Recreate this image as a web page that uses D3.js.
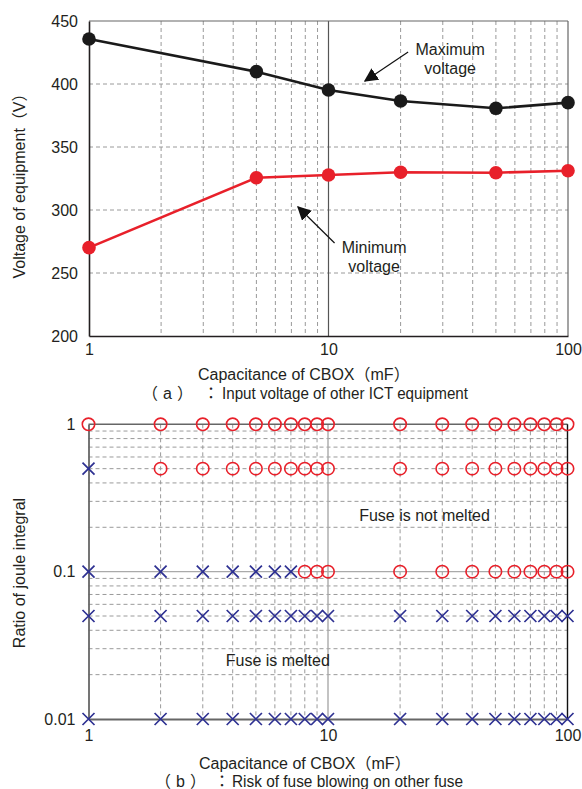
<!DOCTYPE html>
<html><head><meta charset="utf-8">
<script src="https://cdn.jsdelivr.net/npm/d3@7"></script>
<style>
body{margin:0;background:#fff;}
text{font-family:"Liberation Sans","Noto Sans CJK JP",Arial,sans-serif;fill:#231f20;}
</style></head>
<body><svg id="c" width="582" height="789"></svg>
<script>
// ---------- data ----------
const capTop = [1, 5, 10, 20, 50, 100];
const maxVoltage = [435.7, 409.8, 395.2, 386.5, 380.7, 385.2];
const minVoltage = [270.1, 325.6, 327.8, 330, 329.6, 331.2];
const topYTicks = [200, 250, 300, 350, 400, 450];
const xTicks = [1, 10, 100];
const xMinor = [2,3,4,5,6,7,8,9,20,30,40,50,60,70,80,90];

const capBottom = [1,2,3,4,5,6,7,8,9,10,20,30,40,50,60,70,80,90,100];
const ratioLevels = [1, 0.5, 0.1, 0.05, 0.01];
// melted flags per level for each capacitance (true = X, false = O)
const meltedAt1   = capBottom.map(c => false);
const meltedAt05  = capBottom.map(c => c === 1);
const meltedAt01  = capBottom.map(c => c <= 7);
const meltedAt005 = capBottom.map(c => true);
const meltedAt001 = capBottom.map(c => true);
const meltedRows = [meltedAt1, meltedAt05, meltedAt01, meltedAt005, meltedAt001];
const bottomYTicks = [0.01, 0.1, 1];
const yMinorBottom = [0.02,0.03,0.04,0.05,0.06,0.07,0.08,0.09,0.2,0.3,0.4,0.5,0.6,0.7,0.8,0.9];

const svg = d3.select("#c");

// ---------- top chart ----------
const xT = d3.scaleLog().domain([1,100]).range([89,568]);
const yT = d3.scaleLinear().domain([200,450]).range([336,21]);
const gT = svg.append("g");

gT.selectAll(".vm").data(xMinor).join("line")
  .attr("x1", d=>xT(d)).attr("x2", d=>xT(d)).attr("y1", yT(450)).attr("y2", yT(200))
  .attr("stroke","#9a9a9a").attr("stroke-width",1).attr("stroke-dasharray","4,3");
gT.selectAll(".hm").data(topYTicks.filter(d=>d>200 && d<450)).join("line")
  .attr("x1", xT(1)).attr("x2", xT(100)).attr("y1", d=>yT(d)).attr("y2", d=>yT(d))
  .attr("stroke","#9a9a9a").attr("stroke-width",1).attr("stroke-dasharray","4,3");
gT.append("line").attr("x1",xT(10)).attr("x2",xT(10)).attr("y1",yT(450)).attr("y2",yT(200))
  .attr("stroke","#555").attr("stroke-width",1.2);
// frame
gT.append("line").attr("x1",xT(1)).attr("x2",xT(100)).attr("y1",yT(450)).attr("y2",yT(450)).attr("stroke","#666").attr("stroke-width",1.2);
gT.append("line").attr("x1",xT(100)).attr("x2",xT(100)).attr("y1",yT(450)).attr("y2",yT(200)).attr("stroke","#666").attr("stroke-width",1.2);

const axBT = gT.append("g").attr("transform",`translate(0,${yT(200)})`)
  .call(d3.axisBottom(xT).tickValues(xTicks).tickFormat(d3.format("d")).tickSize(0).tickPadding(8));
axBT.select(".domain").attr("stroke","#231f20").attr("stroke-width",1.6);
axBT.selectAll("text").attr("font-size",16).attr("fill","#231f20");
const axLT = gT.append("g").attr("transform",`translate(${xT(1)},0)`)
  .call(d3.axisLeft(yT).tickValues(topYTicks).tickSize(0).tickPadding(11));
axLT.select(".domain").attr("stroke","#231f20").attr("stroke-width",1.6);
axLT.selectAll("text").attr("font-size",16).attr("fill","#231f20");

const line = d3.line().x(d=>xT(d[0])).y(d=>yT(d[1]));
const series = [
  {vals:maxVoltage, color:"#1a1a1a"},
  {vals:minVoltage, color:"#e8202a"}
];
series.forEach(s=>{
  const pts = capTop.map((c,i)=>[c,s.vals[i]]);
  gT.append("path").datum(pts).attr("d",line).attr("fill","none").attr("stroke",s.color).attr("stroke-width",2.6);
  gT.selectAll(null).data(pts).join("circle").attr("cx",d=>xT(d[0])).attr("cy",d=>yT(d[1])).attr("r",6.8).attr("fill",s.color);
});

// arrowhead
svg.append("defs").append("marker").attr("id","ah").attr("viewBox","0 0 10 10")
  .attr("refX",9).attr("refY",5).attr("markerWidth",14).attr("markerHeight",14)
  .attr("markerUnits","userSpaceOnUse").attr("orient","auto")
  .append("path").attr("d","M0,0 L10,5 L0,10 z").attr("fill","#111");

const annots = [
  {lines:["Maximum","voltage"], tx:32.2, ty:423, from:[21.5,425.4], to:[14.2,402.4]},
  {lines:["Minimum","voltage"], tx:15.5, ty:266, from:[10.6,273.8], to:[7.46,302.4]}
];
annots.forEach(a=>{
  gT.append("line").attr("x1",xT(a.from[0])).attr("y1",yT(a.from[1]))
    .attr("x2",xT(a.to[0])).attr("y2",yT(a.to[1]))
    .attr("stroke","#111").attr("stroke-width",1.2).attr("marker-end","url(#ah)");
  const t = gT.append("text").attr("x",xT(a.tx)).attr("y",yT(a.ty)).attr("text-anchor","middle").attr("font-size",16);
  a.lines.forEach((l,i)=>t.append("tspan").attr("x",xT(a.tx)).attr("dy",i?19:0).text(l));
});

svg.append("text").attr("transform",`translate(25,182) rotate(-90)`).attr("text-anchor","middle")
  .attr("font-size",16).text("Voltage of equipment（V）");
svg.append("text").attr("x",198).attr("y",380).attr("font-size",16)
  .text("Capacitance of CBOX（mF）");

function caption(y, parts){
  const t = svg.append("text").attr("y",y).attr("font-size",16);
  parts.forEach(p=>{
    const ts = t.append("tspan").attr("x",p.x).text(p.text);
    if(p.len) ts.attr("textLength",p.len).attr("lengthAdjust","spacingAndGlyphs");
    if(p.ls) ts.attr("letter-spacing",p.ls);
  });
}
caption(399, [{x:142,text:"（a）",ls:5},{x:203,text:"："},{x:222,text:"Input voltage of other ICT equipment",len:246}]);

// ---------- bottom chart ----------
const xB = d3.scaleLog().domain([1,100]).range([88.5,567.5]);
const yB = d3.scaleLog().domain([0.01,1]).range([719,424.3]);
const gB = svg.append("g");

gB.selectAll(".vm").data(xMinor).join("line")
  .attr("x1", d=>xB(d)).attr("x2", d=>xB(d)).attr("y1", yB(1)).attr("y2", yB(0.01))
  .attr("stroke","#9a9a9a").attr("stroke-width",1).attr("stroke-dasharray","4,3");
gB.selectAll(".hm").data(yMinorBottom).join("line")
  .attr("x1", xB(1)).attr("x2", xB(100)).attr("y1", d=>yB(d)).attr("y2", d=>yB(d))
  .attr("stroke","#9a9a9a").attr("stroke-width",1).attr("stroke-dasharray","4,3");
gB.append("line").attr("x1",xB(10)).attr("x2",xB(10)).attr("y1",yB(1)).attr("y2",yB(0.01))
  .attr("stroke","#aaa").attr("stroke-width",1.4);
gB.append("line").attr("x1",xB(1)).attr("x2",xB(100)).attr("y1",yB(0.1)).attr("y2",yB(0.1))
  .attr("stroke","#aaa").attr("stroke-width",1.4);
gB.append("line").attr("x1",xB(1)).attr("x2",xB(100)).attr("y1",yB(1)).attr("y2",yB(1)).attr("stroke","#666").attr("stroke-width",1.6);
gB.append("line").attr("x1",xB(100)).attr("x2",xB(100)).attr("y1",yB(1)).attr("y2",yB(0.01)).attr("stroke","#111").attr("stroke-width",1.4);

const axBB = gB.append("g").attr("transform",`translate(0,${yB(0.01)})`)
  .call(d3.axisBottom(xB).tickValues(xTicks).tickFormat(d3.format("d")).tickSize(0).tickPadding(11));
axBB.select(".domain").attr("stroke","#666").attr("stroke-width",1.8);
axBB.selectAll("text").attr("font-size",16).attr("fill","#231f20");
const axLB = gB.append("g").attr("transform",`translate(${xB(1)},0)`)
  .call(d3.axisLeft(yB).tickValues(bottomYTicks).tickFormat(d=>String(d)).tickSize(0).tickPadding(13));
axLB.select(".domain").attr("stroke","#666").attr("stroke-width",1.8);
axLB.selectAll("text").attr("font-size",16).attr("fill","#231f20");

const pts = [];
ratioLevels.forEach((r,ri)=>capBottom.forEach((c,ci)=>pts.push({c, r, melted: meltedRows[ri][ci]})));
const s = 6;
gB.selectAll(".o").data(pts.filter(p=>!p.melted)).join("circle")
  .attr("cx",d=>xB(d.c)).attr("cy",d=>yB(d.r)).attr("r",6.2)
  .attr("fill","none").attr("stroke","#e8202a").attr("stroke-width",1.6);
gB.selectAll(".x").data(pts.filter(p=>p.melted)).join("path")
  .attr("d",d=>{const x=xB(d.c), y=yB(d.r);return `M${x-s},${y-s}L${x+s},${y+s}M${x-s},${y+s}L${x+s},${y-s}`;})
  .attr("stroke","#2e3192").attr("stroke-width",1.7).attr("fill","none");

const regionLabels = [
  {text:"Fuse is not melted", x:25.3, y:0.239},
  {text:"Fuse is melted", x:6.17, y:0.0248}
];
gB.selectAll(".rl").data(regionLabels).join("text")
  .attr("x",d=>xB(d.x)).attr("y",d=>yB(d.y)).attr("dy","0.35em").attr("text-anchor","middle")
  .attr("font-size",16).text(d=>d.text);

svg.append("text").attr("transform",`translate(25,573) rotate(-90)`).attr("text-anchor","middle")
  .attr("font-size",16).text("Ratio of joule integral");
svg.append("text").attr("x",199).attr("y",769).attr("font-size",16)
  .text("Capacitance of CBOX（mF）");
caption(787, [{x:155,text:"（b）",ls:5},{x:214,text:"："},{x:232,text:"Risk of fuse blowing on other fuse",len:231}]);
</script></body></html>
